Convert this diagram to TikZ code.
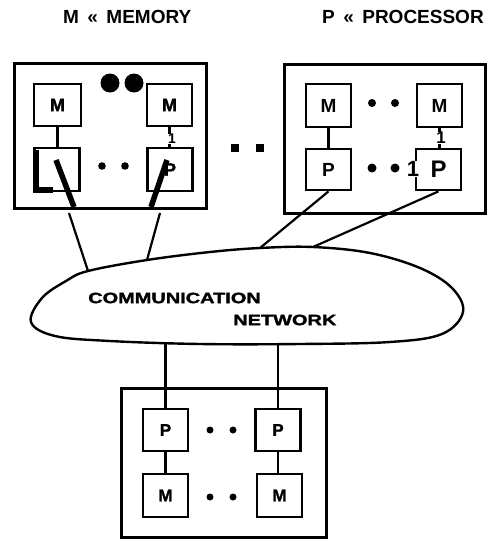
\documentclass[tikz,border=0pt]{standalone}
\usepackage{fontspec}
\setmainfont{Liberation Sans}
\newfontfamily\hv{Liberation Sans}[BoldFeatures={FakeBold=1.5}]
\begin{document}
\begin{tikzpicture}[x=1pt,y=-1pt,
  frame/.style={draw, line width=3pt, minimum width=#1, inner sep=0pt},
  unit/.style={draw, line width=2.8pt, minimum width=45pt, minimum height=42pt, inner sep=0pt, font=\hv\bfseries\fontsize{18}{18}\selectfont},
  wire/.style={line width=2.2pt},
  thickwire/.style={line width=5.5pt},
  dotc/.style={fill=black, draw=none},
  lbl/.style={font=\bfseries\fontsize{19}{19}\selectfont, inner sep=0pt},
  net/.style={font=\hv\bfseries\fontsize{15}{15}\selectfont, xscale=1.33, inner sep=0pt}]
\useasboundingbox (0,0) rectangle (488,541);

% titles
\node[lbl, anchor=west] (tm) at (63,17) {M \,«\, MEMORY};
\node[lbl, anchor=west] (tp) at (322,17) {P \,«\, PROCESSOR};

% left frame
\node[frame=192pt, minimum height=145pt] (LF) at (110,135.5) {};
\node[unit, minimum width=47pt] (lM1) at (57.5,105) {M};
\node[unit] (lM2) at (169.5,105) {M};
\node[unit, minimum height=43pt] (lP1) at (57,169.5) {};
\node[unit, minimum height=43pt] (lP2) at (170,169.5) {P};
\draw[wire] (lM1.south) -- (lM1.south |- lP1.north);
\draw[wire] (lM2.south) -- (lM2.south |- lP2.north);
\node[font=\bfseries\fontsize{14}{14}\selectfont, inner sep=0pt, fill=white] (one1) at (172,139) {1};
\draw[line width=5.5pt] (36,150) -- (36,190) -- (53,190);
\fill[dotc] (110,83) circle (9.5);
\fill[dotc] (134,83) circle (9.5);
\fill[dotc] (102,166) circle (3.8);
\fill[dotc] (125,166) circle (3.8);

% between frames
\fill[dotc] (231,144) rectangle (239,152);
\fill[dotc] (256,144) rectangle (264,152);

% right frame
\node[frame=201pt, minimum height=149pt] (RF) at (384.5,138.5) {};
\node[unit, minimum height=43pt, font=\bfseries\fontsize{19}{19}\selectfont] (rM1) at (328.5,105.5) {M};
\node[unit, minimum height=43pt, font=\bfseries\fontsize{19}{19}\selectfont] (rM2) at (439.5,105.5) {M};
\node[unit, minimum height=41pt, font=\bfseries\fontsize{19}{19}\selectfont] (rP1) at (328.5,169.5) {P};
\node[unit, minimum height=41pt, font=\bfseries\fontsize{24}{24}\selectfont] (rP2) at (438.5,169.5) {P};
\draw[wire] (rM1.south) -- (rM1.south |- rP1.north);
\draw[wire] (rM2.south) -- (rM2.south |- rP2.north);
\node[font=\bfseries\fontsize{17}{17}\selectfont, inner sep=0pt, fill=white] (one2) at (441,138) {1};
\node[font=\bfseries\fontsize{22}{22}\selectfont, inner sep=0.5pt, fill=white] (one3) at (413,169) {1};
\fill[dotc] (372,103) circle (4);
\fill[dotc] (395,103) circle (4);
\fill[dotc] (372,168) circle (4.5);
\fill[dotc] (395,168) circle (4.5);

% communication network
\draw[line width=2.4pt] plot[smooth cycle, tension=0.6] coordinates {
  (31,322) (42,298) (66,281) (88,271) (147,260) (210,252) (260,248) (313,247)
  (370,253) (420,268) (452,288) (463,312) (442,334) (390,342) (300,344)
  (200,344) (110,341) (55,336)};
\coordinate (n1) at (88,271);
\coordinate (n2) at (147,260);
\coordinate (n3) at (260,248);
\coordinate (n4) at (313,247);
\node[net, anchor=west] (comm) at (88,298) {COMMUNICATION};
\node[net, anchor=west] (netw) at (233,320) {NETWORK};

% connectors from left frame
\coordinate (a1) at (56,160);
\coordinate (a2) at (74,207);
\coordinate (a3) at (69,213);
\coordinate (b1) at (167,160);
\coordinate (b2) at (151,207);
\coordinate (b3) at (160,213);
\draw[thickwire] (a1) -- (a2);
\draw[thickwire] (b1) -- (b2);
\draw[wire] (a3) -- (n1);
\draw[wire] (b3) -- (n2);
% connectors from right frame
\draw[wire] (rP1.south) -- (n3);
\draw[wire] (rP2.south) -- (n4);

% bottom frame
\node[frame=205pt, minimum height=149pt] (BF) at (223.5,462.5) {};
\node[unit, font=\hv\bfseries\fontsize{17}{17}\selectfont] (bP1) at (165.5,430) {P};
\node[unit, font=\hv\bfseries\fontsize{17}{17}\selectfont] (bP2) at (278,430) {P};
\node[unit, minimum height=43pt, font=\hv\bfseries\fontsize{17}{17}\selectfont] (bM1) at (165.5,495.5) {M};
\node[unit, minimum height=43pt, font=\hv\bfseries\fontsize{17}{17}\selectfont] (bM2) at (279.5,495.5) {M};
\draw[wire] (bP1.south) -- (bP1.south |- bM1.north);
\draw[wire] (bP2.south) -- (bP2.south |- bM2.north);
\coordinate (n5) at (bP1.north |- 0,344);
\coordinate (n6) at (bP2.north |- 0,344);
\draw[wire] (n5) -- (bP1.north);
\draw[wire] (n6) -- (bP2.north);
\fill[dotc] (210,430) circle (3.5);
\fill[dotc] (233,430) circle (3.5);
\fill[dotc] (210,497) circle (3.5);
\fill[dotc] (233,497) circle (3.5);
\end{tikzpicture}
\end{document}
